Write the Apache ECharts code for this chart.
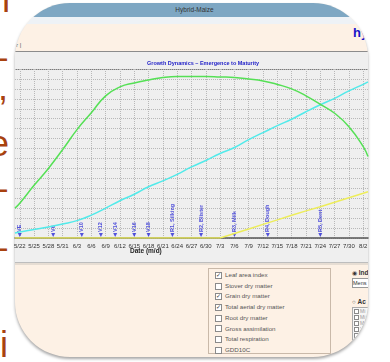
<!DOCTYPE html>
<html>
<head>
<meta charset="utf-8">
<script src="https://cdn.jsdelivr.net/npm/echarts@6/dist/echarts.min.js"></script>
<style>
  body { margin: 0; width: 390px; height: 362px; overflow: hidden; background: #fff; position: relative; font-family: 'Liberation Sans', Arial, sans-serif; }
  .side { position: absolute; font-size: 36px; line-height: 36px; color: #a8420f; white-space: nowrap; }
  #win { position: absolute; left: 15px; top: 3px; width: 353px; height: 354px; border-radius: 55px; overflow: hidden; background: #fdf1e5; box-shadow: 0 2px 3px rgba(0,0,0,0.35); }
  #win div { position: absolute; }
  .cb { display: inline-block; width: 5px; height: 5px; border: 1px solid #8a8a8a; background: #fff; font-size: 6px; line-height: 5px; text-align: center; color: #333; vertical-align: middle; margin-right: 3px; overflow: hidden; }
  #chart { position: absolute; left: 0; top: 0; width: 390px; height: 362px; }
</style>
</head>
<body>
<div class="side" style="left:-10px;top:-18px">n</div>
<div class="side" style="left:-13px;top:39px">–</div>
<div class="side" style="left:-2px;top:70px">,</div>
<div class="side" style="left:-11px;top:126px">e</div>
<div class="side" style="left:-13px;top:170px">–</div>
<div class="side" style="left:-13px;top:229px">–</div>
<div class="side" style="left:0px;top:327px">i</div>

<div id="win">
  <div style="left:0;top:0;width:353px;height:14px;background:#7ea7c3;color:#333;font-size:6.5px;line-height:14px;text-align:center;padding-left:6px;box-sizing:border-box">Hybrid-Maize</div>
  <div style="left:0;top:14px;width:353px;height:7px;background:#eef2f6"></div>
  <div style="left:1px;top:39px;font-size:6px;color:#555">r&nbsp;|</div>
  <div style="left:338px;top:22px;font-size:13px;font-weight:bold;color:#1515c8">hy</div>
  <div style="left:0;top:48px;width:353px;height:1px;background:#8c8c8c"></div>
  <div style="left:0;top:49px;width:353px;height:210px;background:#efefef;border-bottom:1px solid #bdbdbd"></div>
  <div style="left:0;top:66px;width:353px;height:1px;background:#7a7a7a"></div>
  <div style="left:0;top:260px;width:353px;height:2px;background:#e6ddd3"></div>
  <div id="legendBox" style="left:193px;top:265px;width:121px;height:84px;border:1px solid #c9b9a9"></div>
  <div style="left:337px;top:266px;font-size:6.5px;color:#333;white-space:nowrap"><span style="font-size:6px">◉</span> <b>Ind</b></div>
  <div style="left:337px;top:275px;width:30px;height:8px;border:1px solid #999;background:#fff;font-size:5.5px;color:#333;line-height:8px">Mens</div>
  <div style="left:337px;top:295px;font-size:6.5px;color:#333;white-space:nowrap"><span style="font-size:6px">○</span> <b>Ac</b></div>
  <div id="listBox" style="left:337px;top:304px;width:30px;height:40px;border:1px solid #aaa;background:#f6f6f6"></div>
</div>
<div id="chart"></div>

<script>
// categories: one per day, 5/21 .. 8/3
const dates = [
  '5/21','5/22','5/23','5/24','5/25','5/26','5/27','5/28','5/29','5/30','5/31',
  '6/1','6/2','6/3','6/4','6/5','6/6','6/7','6/8','6/9','6/10','6/11','6/12','6/13','6/14','6/15',
  '6/16','6/17','6/18','6/19','6/20','6/21','6/22','6/23','6/24','6/25','6/26','6/27','6/28','6/29','6/30',
  '7/1','7/2','7/3','7/4','7/5','7/6','7/7','7/8','7/9','7/10','7/11','7/12','7/13','7/14','7/15',
  '7/16','7/17','7/18','7/19','7/20','7/21','7/22','7/23','7/24','7/25','7/26','7/27','7/28','7/29','7/30','7/31',
  '8/1','8/2','8/3'
];
const tickLabels = ['5/22','5/25','5/28','5/31','6/3','6/6','6/9','6/12','6/15','6/18','6/21','6/24','6/27',
  '6/30','7/3','7/6','7/9','7/12','7/15','7/18','7/21','7/24','7/27','7/30','8/2'];

// sampled series values (y axis has no labels, units read off the grid rows)
const sampleDates = ['5/21','5/22','5/25','5/28','5/31','6/3','6/6','6/9','6/12','6/15','6/18','6/21','6/24','6/27',
  '6/30','7/3','7/6','7/9','7/12','7/15','7/18','7/21','7/24','7/27','7/30','8/2','8/3'];
const leafArea = [3.0, 3.5, 5.3, 7.0, 8.9, 10.9, 12.6, 14.3, 15.2, 15.6, 15.9, 16.15, 16.25, 16.25,
  16.25, 16.2, 16.15, 16.0, 15.8, 15.45, 15.0, 14.3, 13.45, 12.55, 11.2, 9.2, 8.2];
const totalDry = [0.5, 0.6, 0.85, 1.1, 1.4, 1.75, 2.3, 3.0, 3.75, 4.4, 5.15, 5.75, 6.4, 7.15,
  7.8, 8.5, 9.1, 9.9, 10.6, 11.3, 11.95, 12.7, 13.4, 14.05, 14.8, 15.45, 15.7];
const grainDry = [0, 0, 0, 0, 0, 0, 0, 0, 0, 0, 0, 0, 0, 0,
  0, 0, 0.45, 0.9, 1.37, 1.82, 2.28, 2.73, 3.14, 3.59, 4.05, 4.5, 4.66];

// growth stages
const stageNames = ['VE','V6','V10','V12','V14','V16','V18','R1, Silking','R2, Blister','R3, Milk','R4, Dough','R5, Dent'];
const stageDates = ['5/22','5/29','6/4','6/8','6/11','6/15','6/18','6/23','6/29','7/6','7/13','7/24'];

// legend panel texts
const legendItems = ['Leaf area index','Stover dry matter','Grain dry matter','Total aerial dry matter',
  'Root dry matter','Gross assimilation','Total respiration','GDD10C'];
const checkedItems = ['Leaf area index','Grain dry matter','Total aerial dry matter'];
const listItems = ['Mi','Mi','M','\'','M'];

let box = document.getElementById('legendBox');
box.innerHTML = legendItems.map((t, i) =>
  '<div style="left:6px;top:' + (2 + i * 10.7) + 'px;font-size:6.2px;line-height:7px;color:#555;white-space:nowrap">' +
  '<span class="cb">' + (checkedItems.includes(t) ? '✓' : '') + '</span>' + t + '</div>').join('');
let lb = document.getElementById('listBox');
lb.innerHTML = listItems.map((t, i) =>
  '<div style="left:1px;top:' + (1 + i * 6) + 'px;font-size:5px;line-height:5px;color:#999;white-space:nowrap">' +
  '<span class="cb" style="width:3px;height:3px;margin-right:1px"></span>' + t + '</div>').join('');

const pair = (vals) => sampleDates.map((d, i) => [d, vals[i]]);
const showTick = (i, v) => tickLabels.includes(dates[i]);

let myChart = echarts.init(document.getElementById('chart'));
let option = {
  animation: false,
  textStyle: { fontFamily: 'Liberation Sans' },
  grid: { left: 15, right: 22, top: 69, bottom: 124 },
  graphic: [
    {
      type: 'text', left: 147, top: 60,
      style: { text: 'Growth Dynamics – Emergence to Maturity', fill: '#2323c8', font: 'bold 5.5px "Liberation Sans"', textAlign: 'center' },
    },
    {
      type: 'text', left: 130, top: 248,
      style: { text: 'Date (m/d)', fill: '#222', font: 'bold 6.5px "Liberation Sans"' },
    },
  ],
  xAxis: {
    type: 'category',
    data: dates,
    boundaryGap: false,
    axisLine: { lineStyle: { color: '#555', width: 1.5 } },
    axisTick: { show: false },
    axisLabel: { interval: showTick, fontSize: 6, color: '#333', margin: 5 },
    splitLine: { show: true, interval: showTick, lineStyle: { color: '#b8b8b8', type: [1, 1] } },
  },
  yAxis: {
    type: 'value',
    min: 0,
    max: 17,
    interval: 1,
    axisLine: { show: false },
    axisTick: { show: false },
    axisLabel: { show: false },
    splitLine: { lineStyle: { color: '#b8b8b8', type: [1, 1] } },
  },
  series: [
    {
      name: 'Grain dry matter',
      type: 'line',
      data: pair(grainDry),
      symbol: 'none',
      lineStyle: { color: '#eded5a', width: 1.5 },
    },
    {
      name: 'Total aerial dry matter',
      type: 'line',
      data: pair(totalDry),
      smooth: true,
      symbol: 'none',
      lineStyle: { color: '#52eaea', width: 1.5 },
    },
    {
      name: 'Leaf area index',
      type: 'line',
      data: pair(leafArea),
      smooth: true,
      symbol: 'none',
      lineStyle: { color: '#55e055', width: 1.5 },
    },
    {
      name: 'Stages',
      type: 'scatter',
      data: stageDates.map((d, i) => ({ name: stageNames[i], value: [d, 0.3] })),
      symbol: 'triangle',
      symbolRotate: 180,
      symbolSize: [4, 4],
      itemStyle: { color: '#2b2bd6' },
      label: {
        show: true,
        formatter: '{b}',
        position: 'top',
        distance: 1,
        rotate: 90,
        align: 'left',
        verticalAlign: 'middle',
        fontSize: 5.5,
        fontWeight: 'bold',
        color: '#2b2bd6',
      },
    },
  ],
};
option && myChart.setOption(option);
window.addEventListener('resize', () => {
  myChart.resize();
});
</script>
</body>
</html>
